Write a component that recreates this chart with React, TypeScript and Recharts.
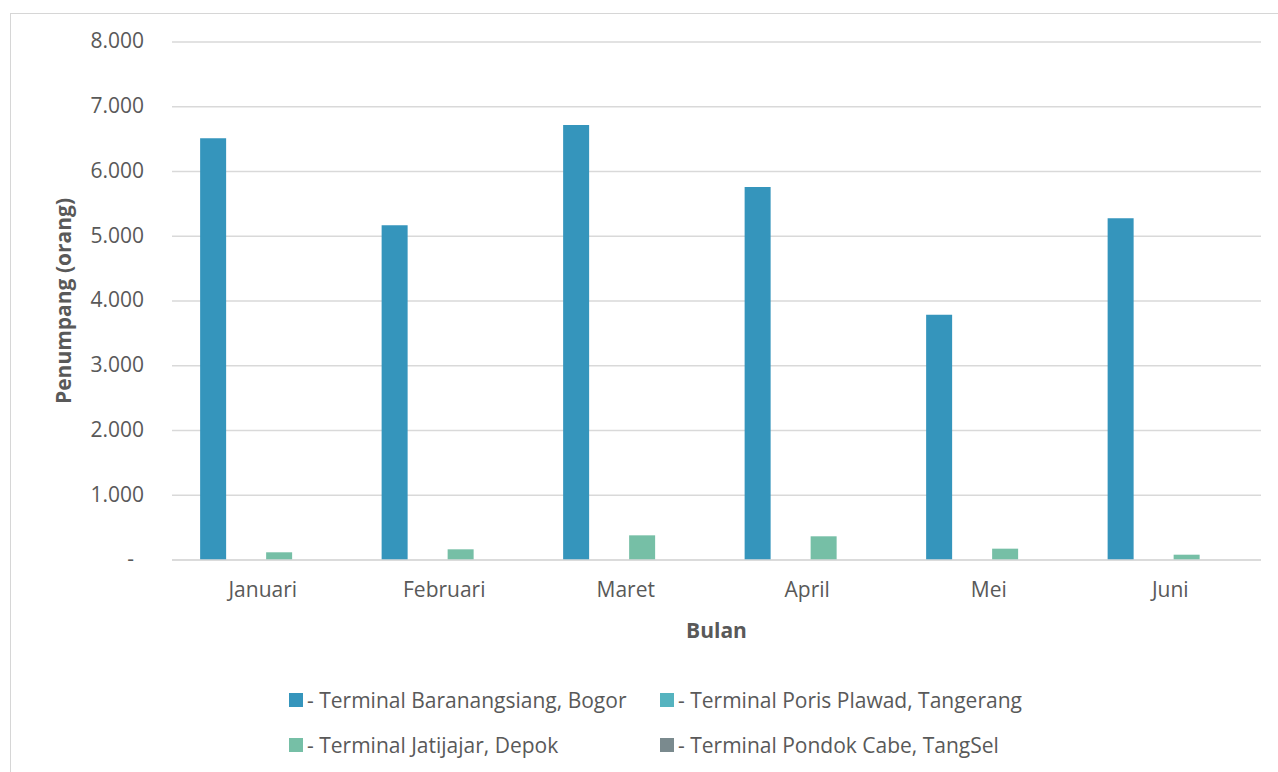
import React from 'react';
import { BarChart, Bar, XAxis, YAxis, CartesianGrid, Legend, Label } from 'recharts';

const months = ['Januari', 'Februari', 'Maret', 'April', 'Mei', 'Juni'];
const baranangsiang = [6513, 5169, 6718, 5761, 3787, 5277];
const porisPlawad = [0, 0, 0, 0, 0, 0];
const jatijajar = [119, 165, 381, 366, 175, 82];
const pondokCabe = [0, 0, 0, 0, 0, 0];
const yTicks = [0, 1000, 2000, 3000, 4000, 5000, 6000, 7000, 8000];

const seriesNames = [
  '- Terminal Baranangsiang, Bogor',
  '- Terminal Poris Plawad, Tangerang',
  '- Terminal Jatijajar, Depok',
  '- Terminal Pondok Cabe, TangSel',
];
const seriesColors = ['#3595BC', '#55B3BF', '#76BFA6', '#7A8A8E'];

const data = months.map((m, i) => ({
  month: m,
  s0: baranangsiang[i],
  s1: porisPlawad[i],
  s2: jatijajar[i],
  s3: pondokCabe[i],
}));

const FONT = '"Open Sans", sans-serif';
const TEXT = '#595959';

const fmt = (v: number) => (v === 0 ? '-' : String(v).replace(/\B(?=(\d{3})+(?!\d))/g, '.'));

const YTick = (props: any) => {
  const { x, y, payload } = props;
  const v = payload.value as number;
  return (
    <text
      x={v === 0 ? x - 10 : x}
      y={y}
      dy="0.3em"
      textAnchor="end"
      fill={TEXT}
      fontSize={21}
      fontFamily={FONT}
    >
      {fmt(v)}
    </text>
  );
};

const renderYLabel = (props: any) => {
  const vb = props.viewBox;
  const cx = vb.x + 63;
  const cy = vb.y + vb.height / 2;
  return (
    <text
      x={cx}
      y={cy}
      transform={`rotate(-90 ${cx} ${cy})`}
      textAnchor="middle"
      dominantBaseline="central"
      fill={TEXT}
      fontSize={21}
      fontWeight={700}
      fontFamily={FONT}
    >
      Penumpang (orang)
    </text>
  );
};

const renderXLabel = (props: any) => {
  const vb = props.viewBox;
  return (
    <text
      x={vb.x + vb.width / 2}
      y={vb.y + vb.height + 48}
      textAnchor="middle"
      fill={TEXT}
      fontSize={21}
      fontWeight={700}
      fontFamily={FONT}
    >
      Bulan
    </text>
  );
};

const colX = [289, 660];
const rowY = [0, 45];

const renderLegend = (props: any) => {
  const payload = [...(props.payload || [])].sort(
    (a: any, b: any) => seriesNames.indexOf(a.value) - seriesNames.indexOf(b.value)
  );
  return (
    <div style={{ position: 'relative', width: 1278, height: 80 }}>
      {payload.map((entry: any, i: number) => (
        <div
          key={i}
          style={{
            position: 'absolute',
            left: colX[i % 2],
            top: rowY[Math.floor(i / 2)],
            height: 28,
            display: 'flex',
            alignItems: 'center',
            whiteSpace: 'nowrap',
          }}
        >
          <span
            style={{
              display: 'inline-block',
              width: 14,
              height: 14,
              background: entry.color,
              marginRight: 4,
            }}
          />
          <span style={{ fontSize: 21, color: TEXT, fontFamily: FONT }}>{entry.value}</span>
        </div>
      ))}
    </div>
  );
};

export default function App() {
  return (
    <div
      style={{
        position: 'absolute',
        left: 0,
        top: 0,
        width: 1278,
        height: 772,
        overflow: 'hidden',
        background: '#fff',
        fontFamily: FONT,
      }}
    >
      <div
        style={{
          position: 'absolute',
          left: 10,
          top: 13,
          width: 1400,
          height: 900,
          border: '1.5px solid #D6D6D6',
        }}
      />
      <div style={{ position: 'absolute', left: 0, top: 0 }}>
        <BarChart
          width={1278}
          height={772}
          data={data}
          margin={{ top: 42, right: 17, left: 0, bottom: 182 }}
          barCategoryGap="15.5%"
          barGap={7}
        >
          <CartesianGrid vertical={false} stroke="#D9D9D9" strokeWidth={1.5} />
          <XAxis
            dataKey="month"
            height={30}
            tickLine={false}
            tickSize={0}
            tickMargin={22}
            axisLine={{ stroke: '#D9D9D9', strokeWidth: 1.5 }}
            tick={{ fill: TEXT, fontSize: 21, fontFamily: FONT }}
          >
            <Label content={renderXLabel} />
          </XAxis>
          <YAxis
            width={172}
            domain={[0, 8000]}
            ticks={yTicks}
            interval={0}
            axisLine={false}
            tickLine={false}
            tickSize={0}
            tickMargin={28}
            tick={<YTick />}
          >
            <Label content={renderYLabel} />
          </YAxis>
          <Legend
            layout="horizontal"
            verticalAlign="middle"
            align="center"
            wrapperStyle={{ top: 686, left: 0, width: 1278, height: 80 }}
            content={renderLegend}
          />
          <Bar dataKey="s0" name={seriesNames[0]} fill={seriesColors[0]} isAnimationActive={false} />
          <Bar dataKey="s1" name={seriesNames[1]} fill={seriesColors[1]} isAnimationActive={false} />
          <Bar dataKey="s2" name={seriesNames[2]} fill={seriesColors[2]} isAnimationActive={false} />
          <Bar dataKey="s3" name={seriesNames[3]} fill={seriesColors[3]} isAnimationActive={false} />
        </BarChart>
      </div>
    </div>
  );
}
